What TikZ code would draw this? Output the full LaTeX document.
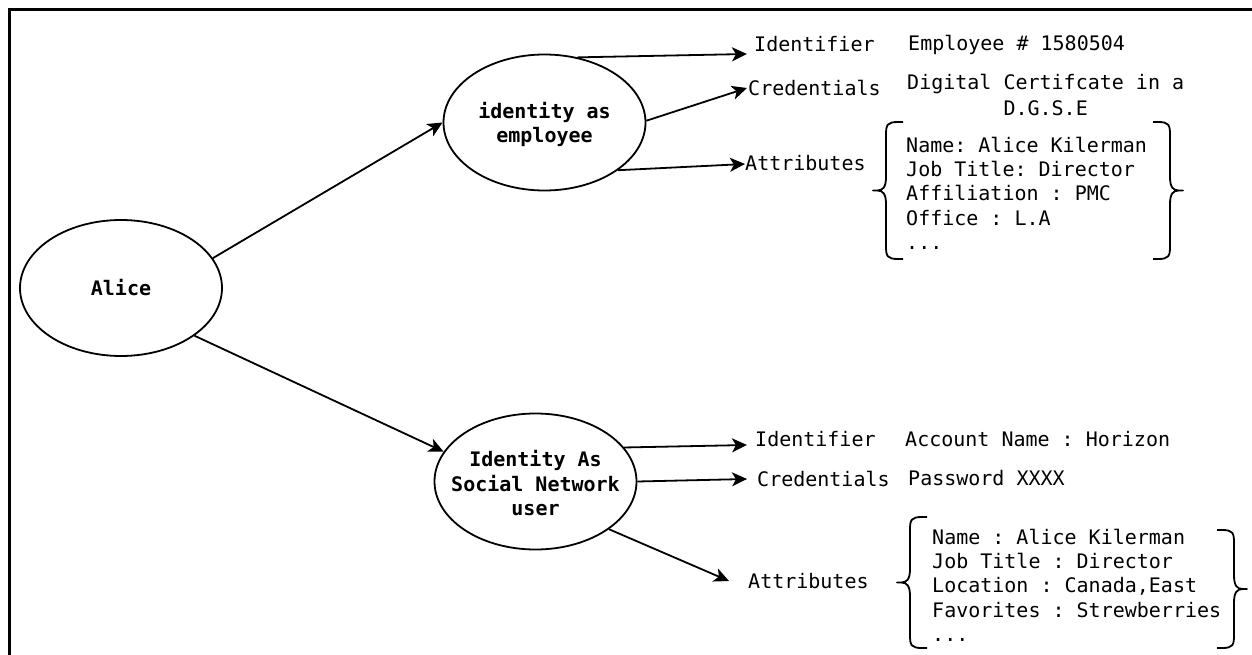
\documentclass[tikz,border=0pt]{standalone}
\usepackage{fontspec}
\setmonofont{DejaVu Sans Mono}
\usetikzlibrary{arrows.meta,shapes.geometric}

% curly bracket: #1 base x, #2 top y, #3 middle y, #4 bottom y,
% #5 = -1 for a bracket opening to the right, +1 for one opening to the left
\newcommand{\curlybracket}[5]{%
  \draw[bracketline] (#1,#2) -- ({#1+#5*5},#2)
    .. controls ({#1+#5*16},#2) and ({#1+#5*17},{#2+3}) .. ({#1+#5*17},{#2+13})
    -- ({#1+#5*17},{#3-14})
    .. controls ({#1+#5*17},{#3-3}) and ({#1+#5*20},#3) .. ({#1+#5*26},#3)
    -- ({#1+#5*30},#3) -- ({#1+#5*26},#3)
    .. controls ({#1+#5*20},#3) and ({#1+#5*17},{#3+3}) .. ({#1+#5*17},{#3+14})
    -- ({#1+#5*17},{#4-13})
    .. controls ({#1+#5*17},{#4-3}) and ({#1+#5*16},#4) .. ({#1+#5*5},#4) -- (#1,#4);}

\begin{document}
\begin{tikzpicture}[x=1pt,y=-1pt,
  every node/.style={font=\ttfamily\fontsize{20}{24.2}\selectfont, inner sep=0pt},
  bubble/.style={ellipse, draw, line width=1.8pt, minimum width=202pt, minimum height=136pt},
  btext/.style={font=\ttfamily\bfseries\fontsize{20}{24.5}\selectfont, align=center},
  conn/.style={line width=1.8pt, -{Stealth[length=15pt,width=14pt,inset=4pt]}},
  bracketline/.style={line width=1.8pt, line join=round},
  item/.style={anchor=base west},
]
\useasboundingbox (0,0) rectangle (1252,655);

% outer frame (runs past the right and bottom edges of the page)
\begin{scope}
  \clip (0,0) rectangle (1252,655);
  \draw[line width=3pt] (9.5,9.5) rectangle (1280,690);
\end{scope}

% the person and her two identities
\node[bubble, label={[btext, name=alicetxt]center:Alice}] (alice) at (121,288) {};
\node[bubble, label={[btext, name=emptxt, yshift=-2pt]center:identity as\\employee}] (emp) at (544.5,122.5) {};
\node[bubble, label={[btext, name=soctxt, yshift=-2pt]center:Identity As\\Social Network\\user}] (soc) at (535.5,481.5) {};

\draw[conn] (alice.18) -- (emp.west);
\draw[conn] (alice.-33) -- (soc.162);

% employee identity
\node[item] (id1) at (754,52) {Identifier};
\node[item] (cr1) at (748,96) {Credentials};
\node[item] (at1) at (745,171) {Attributes};

\draw[conn] (emp.63) -- ([shift={(-7,2)}]id1.base west);
\draw[conn] (emp.1) -- ([shift={(-1,-8)}]cr1.base west);
\draw[conn] (emp.-33) -- ([shift={(0,-7)}]at1.base west);

\node[item] (v1) at (908,51) {Employee \# 1580504};
\node[item, font=\ttfamily\fontsize{20}{26}\selectfont] (v2) at (907,90)
  {\begin{tabular}[t]{@{}c@{}}Digital Certifcate in a\\D.G.S.E\end{tabular}};
\node[item] (v3) at (906,152.5)
  {\begin{tabular}[t]{@{}l@{}}Name: Alice Kilerman\\Job Title: Director\\Affiliation : PMC\\Office : L.A\\...\end{tabular}};

\curlybracket{903}{122}{190.5}{259}{-1}
\curlybracket{1153}{122}{190.5}{259}{1}

% social network identity
\node[item] (id2) at (755,446) {Identifier};
\node[item] (cr2) at (757,486) {Credentials};
\node[item] (at2) at (748,588) {Attributes};

\draw[conn] (soc.21) -- ([shift={(-8,-1)}]id2.base west);
\draw[conn] (soc.0) -- ([shift={(-10,-7)}]cr2.base west);
\draw[conn] (soc.-33) -- ([shift={(-19,-7)}]at2.base west);

\node[item] (v4) at (905,446) {Account Name : Horizon};
\node[item] (v5) at (908,485) {Password XXXX};
\node[item, font=\ttfamily\fontsize{20}{24.3}\selectfont] (v6) at (932,544.3)
  {\begin{tabular}[t]{@{}l@{}}Name : Alice Kilerman\\Job Title : Director\\Location : Canada,East\\Favorites : Strewberries\\...\end{tabular}};

\curlybracket{927}{517}{582.5}{648}{-1}
\curlybracket{1217}{530}{589}{648}{1}
\end{tikzpicture}
\end{document}
